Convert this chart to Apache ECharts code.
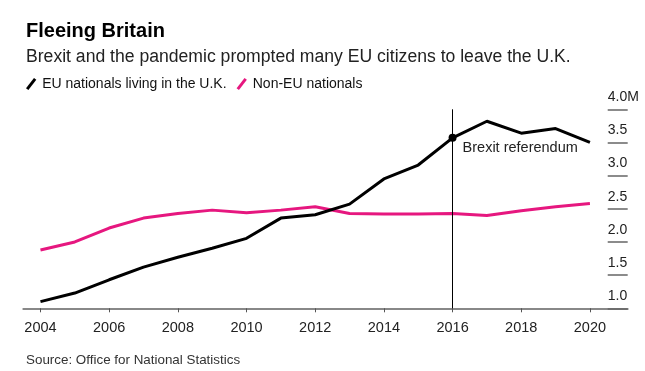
<!DOCTYPE html>
<html>
<head>
<meta charset="utf-8">
<script src="https://cdn.jsdelivr.net/npm/echarts@6/dist/echarts.min.js"></script>
<style>
html,body{margin:0;padding:0;background:#fff;}
#chart{width:645px;height:371px;}
</style>
</head>
<body>
<div id="chart"></div>
<script>
var years = [2004,2005,2006,2007,2008,2009,2010,2011,2012,2013,2014,2015,2016,2017,2018,2019,2020];
var euNationals = [1.10,1.23,1.43,1.62,1.77,1.905,2.055,2.36,2.41,2.57,2.95,3.16,3.57,3.82,3.64,3.71,3.50];
var nonEuNationals = [1.88,2.00,2.21,2.36,2.43,2.48,2.44,2.48,2.53,2.43,2.42,2.42,2.43,2.40,2.47,2.53,2.58];
var xTickYears = [2004,2006,2008,2010,2012,2014,2016,2018,2020];
var yTickValues = [1.0,1.5,2.0,2.5,3.0,3.5,4.0];
var yTickLabels = ['1.0','1.5','2.0','2.5','3.0','3.5','4.0M'];
var eventYear = 2016;
var eventLabel = 'Brexit referendum';

var FONT = "'Liberation Sans', Arial, Helvetica, sans-serif";
var PINK = '#e6177f';

function pairs(vals){ return years.map(function(y,i){ return [y, vals[i]]; }); }
var eventValue = euNationals[years.indexOf(eventYear)];

var chart = echarts.init(document.getElementById('chart'), null, {renderer:'canvas'});
chart.setOption({
  animation: false,
  backgroundColor: '#fff',
  textStyle: {fontFamily: FONT},
  title: [
    {text: 'Fleeing Britain', left: 21, top: 16, textStyle: {fontFamily: FONT, fontSize: 20, fontWeight: 'bold', color: '#000'}},
    {text: 'Brexit and the pandemic prompted many EU citizens to leave the U.K.', left: 21, top: 43, textStyle: {fontFamily: FONT, fontSize: 17.6, fontWeight: 'normal', color: '#222'}},
    {text: 'Source: Office for National Statistics', left: 21, top: 349, textStyle: {fontFamily: FONT, fontSize: 13.4, fontWeight: 'normal', color: '#333'}}
  ],
  legend: {
    left: 21, top: 72, itemWidth: 12, itemHeight: 12, itemGap: 10,
    icon: 'path://M0,11 L8.5,0 L11,1.8 L2.5,12.8 Z',
    textStyle: {fontFamily: FONT, fontSize: 14, color: '#111'},
    data: ['EU nationals living in the U.K.', 'Non-EU nationals']
  },
  grid: {left: 23.3, right: 17.3, top: 109.3, bottom: 62.7, containLabel: false},
  xAxis: {
    type: 'value', min: 2003.5, max: 2021.1,
    axisLine: {show: true, lineStyle: {color: '#888', width: 2}},
    axisTick: {show: true, length: 4, customValues: xTickYears, lineStyle: {color: '#555', width: 1}},
    axisLabel: {show: true, customValues: xTickYears, margin: 12, fontSize: 14.5, color: '#222', fontFamily: FONT, formatter: function(v){ return String(v); }},
    splitLine: {show: false}
  },
  yAxis: {
    type: 'value', position: 'right', min: 1, max: 4, interval: 0.5,
    axisLine: {show: false},
    axisTick: {show: true, inside: true, length: 20, lineStyle: {color: '#666', width: 1.5}},
    axisLabel: {
      show: true, inside: false, margin: -20, align: 'left', verticalAlign: 'bottom',
      padding: [0,0,5,0], fontSize: 14, color: '#222', fontFamily: FONT,
      formatter: function(v){ var i = yTickValues.indexOf(Math.round(v*10)/10); return i >= 0 ? yTickLabels[i] : ''; }
    },
    splitLine: {show: false}
  },
  series: [
    {
      name: 'EU nationals living in the U.K.', type: 'line', data: pairs(euNationals),
      symbol: 'none', lineStyle: {color: '#000', width: 3}, itemStyle: {color: '#000'}, z: 3,
      markLine: {
        silent: true, symbol: 'none', animation: false,
        lineStyle: {color: '#000', width: 1, type: 'solid'}, label: {show: false},
        data: [{xAxis: eventYear}]
      },
      markPoint: {
        silent: true, symbol: 'circle', symbolSize: 8, itemStyle: {color: '#000'},
        label: {show: true, position: 'right', distance: 6, offset: [0, 10], formatter: eventLabel, fontSize: 14.5, color: '#222', fontFamily: FONT},
        data: [{coord: [eventYear, eventValue]}]
      }
    },
    {
      name: 'Non-EU nationals', type: 'line', data: pairs(nonEuNationals),
      symbol: 'none', lineStyle: {color: PINK, width: 3}, itemStyle: {color: PINK}, z: 2
    }
  ]
});
</script>
</body>
</html>
